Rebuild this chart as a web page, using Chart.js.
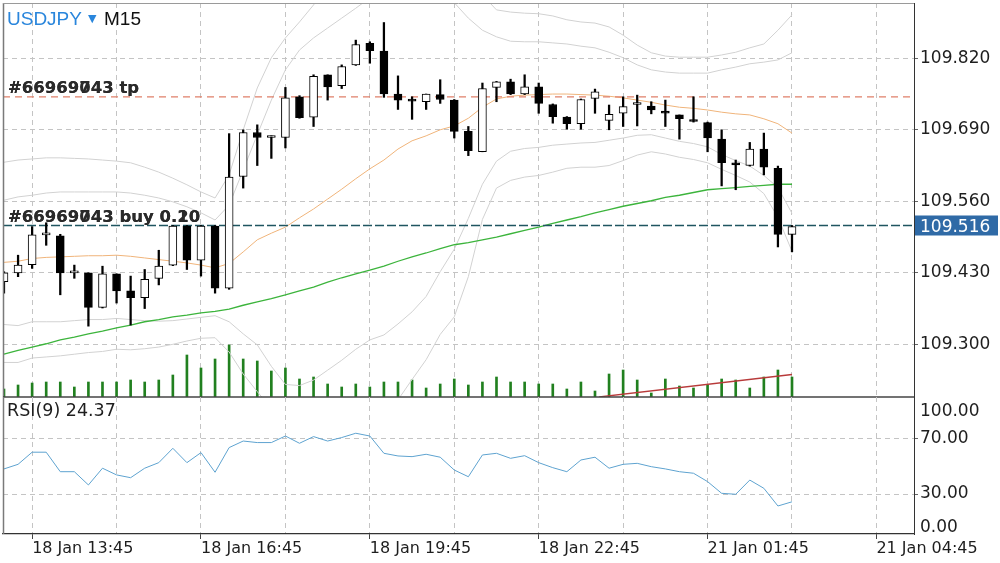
<!DOCTYPE html>
<html>
<head>
<meta charset="utf-8">
<title>USDJPY M15</title>
<script src="https://cdn.jsdelivr.net/npm/chart.js@4.4.1/dist/chart.umd.min.js"></script>
<style>
  body { margin: 0; background: #fff; }
  #wrap { position: relative; width: 1000px; height: 563px; overflow: hidden; background: #fff; }
  #wrap canvas { position: absolute; left: 0; }
</style>
</head>
<body>
<div id="wrap">
  <canvas id="priceChart" width="1000" height="400" style="top:0"></canvas>
  <canvas id="rsiChart" width="1000" height="166" style="top:397px"></canvas>
</div>
<script>
// M15 bars, index 0 = 18 Jan 13:15 (weekend gap after 18 Jan 23:45)
const opens  = [109.414,109.430,109.445,109.499,109.497,109.430,109.430,109.367,109.428,109.397,
                109.385,109.420,109.444,109.515,109.453,109.515,109.402,109.605,109.685,109.676,
                109.676,109.750,109.713,109.790,109.770,109.808,109.847,109.833,109.755,109.743,
                109.741,109.754,109.744,109.687,109.650,109.767,109.777,109.755,109.768,109.736,
                109.713,109.701,109.747,109.707,109.720,109.736,109.733,109.724,109.717,109.708,
                109.703,109.673,109.630,109.625,109.655,109.620,109.500];
const highs  = [109.432,109.462,109.514,109.521,109.500,109.444,109.430,109.442,109.428,109.424,
                109.436,109.471,109.516,109.516,109.516,109.516,109.683,109.690,109.699,109.679,
                109.767,109.752,109.790,109.790,109.808,109.853,109.850,109.885,109.788,109.750,
                109.755,109.781,109.745,109.696,109.775,109.778,109.782,109.790,109.775,109.737,
                109.714,109.746,109.764,109.735,109.750,109.753,109.741,109.744,109.717,109.750,
                109.704,109.690,109.635,109.667,109.684,109.624,109.516];
const lows   = [109.393,109.423,109.438,109.480,109.390,109.420,109.333,109.366,109.375,109.335,
                109.365,109.408,109.443,109.436,109.424,109.393,109.400,109.584,109.625,109.638,
                109.657,109.711,109.696,109.744,109.765,109.807,109.811,109.749,109.727,109.709,
                109.727,109.738,109.675,109.643,109.650,109.741,109.754,109.754,109.720,109.702,
                109.691,109.691,109.720,109.690,109.696,109.697,109.719,109.696,109.673,109.704,
                109.650,109.588,109.581,109.624,109.608,109.477,109.468];
const closes = [109.430,109.444,109.499,109.499,109.430,109.430,109.367,109.428,109.397,109.385,
                109.418,109.442,109.515,109.453,109.515,109.402,109.604,109.685,109.676,109.676,
                109.748,109.712,109.787,109.768,109.805,109.845,109.834,109.755,109.744,109.742,
                109.755,109.745,109.687,109.652,109.765,109.777,109.755,109.768,109.738,109.714,
                109.701,109.745,109.759,109.718,109.732,109.736,109.726,109.720,109.710,109.705,
                109.675,109.630,109.626,109.655,109.622,109.500,109.514];

// moving averages and bands
const maFast = [109.449,109.451,109.456,109.458,109.459,109.460,109.461,109.461,109.462,109.460,
                109.457,109.454,109.451,109.448,109.444,109.439,109.447,109.468,109.490,109.502,
                109.513,109.530,109.546,109.564,109.582,109.601,109.619,109.635,109.655,109.670,
                109.679,109.690,109.697,109.711,109.731,109.746,109.751,109.753,109.754,109.755,
                109.755,109.754,109.753,109.751,109.748,109.744,109.740,109.735,109.731,109.729,
                109.726,109.722,109.719,109.717,109.710,109.701,109.684];
const maSlow = [109.282,109.289,109.295,109.301,109.308,109.313,109.319,109.324,109.330,109.335,
                109.341,109.345,109.350,109.353,109.357,109.360,109.364,109.371,109.377,109.383,
                109.390,109.397,109.404,109.413,109.421,109.428,109.435,109.442,109.451,109.459,
                109.466,109.474,109.481,109.485,109.490,109.495,109.501,109.507,109.513,109.520,
                109.526,109.532,109.539,109.545,109.551,109.556,109.561,109.567,109.571,109.576,
                109.581,109.583,109.585,109.587,109.589,109.591,109.591];
const bandUpOuter = [109.631,109.635,109.637,109.639,109.639,109.638,109.637,109.635,109.633,109.630,
                109.622,109.613,109.602,109.590,109.577,109.566,109.608,109.690,109.766,109.821,
                109.857,109.886,109.917,109.953,109.990,110.026,110.053,110.081,110.111,110.104,
                110.086,110.062,110.044,109.999,109.935,109.908,109.904,109.902,109.901,109.897,
                109.890,109.886,109.884,109.877,109.862,109.844,109.830,109.824,109.822,109.822,
                109.822,109.826,109.831,109.839,109.846,109.871,109.899];
const bandUpInner = [109.562,109.568,109.571,109.575,109.577,109.577,109.577,109.577,109.577,109.575,
                109.571,109.566,109.559,109.550,109.539,109.526,109.553,109.617,109.681,109.744,
                109.799,109.835,109.857,109.875,109.893,109.911,109.930,109.953,109.973,109.981,
                109.971,109.948,109.921,109.893,109.871,109.859,109.851,109.850,109.850,109.848,
                109.846,109.842,109.839,109.831,109.821,109.808,109.799,109.795,109.793,109.793,
                109.793,109.799,109.804,109.810,109.813,109.817,109.830];
const bandLowInner = [109.336,109.334,109.341,109.341,109.341,109.343,109.345,109.345,109.347,109.345,
                109.343,109.342,109.343,109.346,109.349,109.352,109.341,109.319,109.299,109.260,
                109.227,109.225,109.235,109.253,109.271,109.291,109.308,109.317,109.337,109.359,
                109.387,109.432,109.473,109.529,109.591,109.633,109.651,109.656,109.658,109.662,
                109.664,109.666,109.667,109.671,109.675,109.680,109.681,109.675,109.669,109.665,
                109.659,109.645,109.634,109.624,109.607,109.585,109.538];
const bandLowOuter = [109.267,109.267,109.275,109.277,109.279,109.282,109.285,109.287,109.291,109.290,
                109.292,109.295,109.300,109.306,109.311,109.312,109.286,109.246,109.214,109.183,
                109.169,109.174,109.175,109.175,109.174,109.176,109.185,109.189,109.199,109.236,
                109.272,109.318,109.350,109.423,109.527,109.584,109.598,109.604,109.607,109.613,
                109.620,109.622,109.622,109.625,109.634,109.644,109.650,109.646,109.640,109.636,
                109.630,109.618,109.607,109.595,109.574,109.531,109.469];

// tick volumes
const volumes = [160,240,280,300,300,200,300,300,300,340,300,340,440,840,580,760,1040,760,720,520,
                 580,360,400,260,200,260,200,300,300,340,180,260,360,240,300,400,300,300,260,260,
                 160,300,120,460,540,340,80,360,220,180,240,360,340,180,400,540,400];
const volTrendX = [42.3, 56];
const volTrendY = [0, 450];

// RSI(9)
const rsi = [48,51.3,60,60,46,46,36.5,48.5,43.7,41.7,48.5,52.5,62.8,52.5,59.7,45.6,63.3,68,66.9,66.9,
             71.6,66.4,71.2,68,70.5,73.6,71.6,59.2,57.3,56.8,58.5,56.4,47.2,42.4,58,59.2,55.6,57.5,
             52.5,48.9,46,54.4,56.4,48.5,51.3,52,49.6,48,46,44.9,38.9,30.5,29.8,40,34.1,21.4,24.4];
const rsiLabel = 'RSI(9) 24.37';

// axes
const tickPos = [2, 14, 26, 38, 50, 62];
const tickLabels = ['18 Jan 13:45', '18 Jan 16:45', '18 Jan 19:45', '18 Jan 22:45', '21 Jan 01:45', '21 Jan 04:45'];
const priceTicks = [109.300, 109.430, 109.560, 109.690, 109.820];
const rsiTicks = [30, 70];

// order lines
const tpPrice = 109.750;
const buyPrice = 109.516;
const orderIds = ['#66969743', '#66969043'];
const buyLots = ['0.10', '0.20'];

// ---- layout ----
const X_MIN = -0.07, X_MAX = 64.67;
const FONT = '"DejaVu Sans", sans-serif';
const GRID = '#c4c4c4';
Chart.defaults.font.family = FONT;
Chart.defaults.color = '#222';

const pts = arr => arr.map((v, i) => ({ x: i, y: v }));
function gridTicks(axis) {
  axis.ticks = [];
  for (let v = 2; v <= 62; v += 6) axis.ticks.push({ value: v });
}
function noPad(axis) {
  axis.paddingLeft = axis.paddingRight = axis.paddingTop = axis.paddingBottom = 0;
}
function lineSet(data, color, width, order, extra) {
  return Object.assign({
    type: 'line', data: data, borderColor: color, borderWidth: width,
    pointRadius: 0, tension: 0, fill: false, order: order, yAxisID: 'y'
  }, extra || {});
}

// ---- price panel ----
const priceDecor = {
  id: 'priceDecor',
  afterDraw(chart) {
    const { ctx, chartArea: a, scales } = chart;
    ctx.save();
    // frame
    ctx.lineWidth = 1.5; ctx.strokeStyle = '#7a7a7a';
    ctx.beginPath(); ctx.moveTo(a.left + 0.5, a.top); ctx.lineTo(a.left + 0.5, a.bottom); ctx.stroke();
    ctx.lineWidth = 1; ctx.strokeStyle = '#9a9a9a';
    ctx.beginPath(); ctx.moveTo(a.left, a.top + 0.5); ctx.lineTo(a.right, a.top + 0.5); ctx.stroke();
    ctx.lineWidth = 1.5; ctx.strokeStyle = '#444';
    ctx.beginPath(); ctx.moveTo(a.left, a.bottom); ctx.lineTo(a.right, a.bottom); ctx.stroke();

    // title
    ctx.textBaseline = 'alphabetic'; ctx.textAlign = 'left';
    ctx.font = '19px "Liberation Sans", Arial, sans-serif';
    ctx.fillStyle = '#2a86dc';
    ctx.fillText('USDJPY', 7, 25);
    ctx.font = '11px "DejaVu Sans", sans-serif';
    ctx.fillText('\u25BC', 88, 22);
    ctx.font = '19px "Liberation Sans", Arial, sans-serif';
    ctx.fillStyle = '#111';
    ctx.fillText('M15', 104, 25);

    // order labels (two orders drawn on top of each other)
    const yTp = scales.y.getPixelForValue(tpPrice);
    const yBuy = scales.y.getPixelForValue(buyPrice);
    ctx.font = 'bold 16.5px ' + FONT;
    ctx.fillStyle = '#2a2a2a';
    orderIds.forEach((id, k) => {
      ctx.fillText(id + ' tp', 8, yTp - 4);
      ctx.fillText(id + ' buy ' + buyLots[k], 8, yBuy - 3.5);
    });

    // current price box
    ctx.fillStyle = '#2f6aa6';
    ctx.fillRect(a.right + 1, yBuy - 10, 83, 20);
    ctx.fillStyle = '#fff';
    ctx.font = '17px ' + FONT;
    ctx.fillText(buyPrice.toFixed(3), a.right + 6, yBuy + 6.5);
    ctx.restore();
  }
};

const bodyColors = closes.map((c, i) => (c >= opens[i] ? '#ffffff' : '#000000'));

new Chart(document.getElementById('priceChart'), {
  type: 'line',
  data: {
    datasets: [
      {
        type: 'bar', data: opens.map((o, i) => ({ x: i, y: [o, closes[i]] })),
        backgroundColor: bodyColors, borderColor: '#000', borderWidth: 1, borderSkipped: false,
        barThickness: 8, minBarLength: 2, grouped: false, order: 1, yAxisID: 'y'
      },
      {
        type: 'bar', data: lows.map((l, i) => ({ x: i, y: [l, highs[i]] })),
        backgroundColor: '#000', borderWidth: 0, barThickness: 1.6, grouped: false, order: 2, yAxisID: 'y'
      },
      lineSet([{ x: X_MIN, y: tpPrice }, { x: X_MAX, y: tpPrice }], '#e0806a', 1.2, 3, { borderDash: [7, 5] }),
      lineSet([{ x: X_MIN, y: buyPrice }, { x: X_MAX, y: buyPrice }], '#1f5560', 1.3, 3, { borderDash: [9, 3] }),
      lineSet(pts(maFast), '#f0b47a', 1, 4),
      lineSet(pts(maSlow), '#3cb43c', 1.3, 4),
      lineSet(pts(bandUpOuter), '#d2d2d2', 1, 5),
      lineSet(pts(bandUpInner), '#d2d2d2', 1, 5),
      lineSet(pts(bandLowInner), '#d2d2d2', 1, 5),
      lineSet(pts(bandLowOuter), '#d2d2d2', 1, 5),
      lineSet(volTrendX.map((x, k) => ({ x: x, y: volTrendY[k] })), '#b83a3a', 1.3, 6, { yAxisID: 'yv' }),
      {
        type: 'bar', data: pts(volumes), backgroundColor: '#21801f', borderWidth: 0,
        barThickness: 2, grouped: false, order: 7, yAxisID: 'yv'
      }
    ]
  },
  options: {
    responsive: false, animation: false, events: [],
    layout: { padding: { left: 3, top: 3, right: 0, bottom: 0 } },
    plugins: { legend: { display: false }, tooltip: { enabled: false } },
    scales: {
      x: {
        type: 'linear', position: 'bottom', min: X_MIN, max: X_MAX, offset: false,
        afterBuildTicks: gridTicks,
        afterFit: ax => { ax.height = 3; noPad(ax); },
        ticks: { display: false },
        grid: { color: GRID, drawTicks: false, offset: false },
        border: { display: false, dash: [5, 4] }
      },
      y: {
        type: 'linear', position: 'right', min: 109.2042, max: 109.9205,
        afterBuildTicks: ax => { ax.ticks = priceTicks.map(v => ({ value: v })); },
        afterFit: ax => { ax.width = 86; noPad(ax); },
        ticks: { callback: v => v.toFixed(3), font: { size: 17 }, color: '#1e1e1e', padding: 2 },
        grid: { color: GRID, tickLength: 4, tickColor: '#666' },
        border: { display: true, color: '#333', width: 1, dash: [5, 4] }
      },
      yv: { type: 'linear', display: false, position: 'right', min: 0, max: 7880 }
    }
  },
  plugins: [priceDecor]
});

// ---- RSI panel ----
const rsiDecor = {
  id: 'rsiDecor',
  afterDraw(chart) {
    const { ctx, chartArea: a } = chart;
    ctx.save();
    ctx.lineWidth = 1.5; ctx.strokeStyle = '#7a7a7a';
    ctx.beginPath(); ctx.moveTo(a.left + 0.5, a.top); ctx.lineTo(a.left + 0.5, a.bottom); ctx.stroke();
    ctx.fillStyle = '#1e1e1e';
    ctx.textAlign = 'left'; ctx.textBaseline = 'alphabetic';
    ctx.font = '17.5px ' + FONT;
    ctx.fillText(rsiLabel, 7, a.top + 19);
    ctx.font = '17px ' + FONT;
    ctx.fillText((100).toFixed(2), a.right + 6, a.top + 19);
    ctx.fillText((0).toFixed(2), a.right + 6, a.bottom - 2.5);
    ctx.restore();
  }
};

new Chart(document.getElementById('rsiChart'), {
  type: 'line',
  data: {
    datasets: [lineSet(pts(rsi), '#5ea3d0', 1, 1)]
  },
  options: {
    responsive: false, animation: false, events: [],
    layout: { padding: { left: 3, top: 0, right: 0, bottom: 0 } },
    plugins: { legend: { display: false }, tooltip: { enabled: false } },
    scales: {
      x: {
        type: 'linear', position: 'bottom', min: X_MIN, max: X_MAX, offset: false,
        afterBuildTicks: gridTicks,
        afterFit: ax => { ax.height = 29; noPad(ax); },
        ticks: {
          callback: v => { const k = tickPos.indexOf(v); return k >= 0 ? tickLabels[k] : ''; },
          align: 'start', maxRotation: 0, autoSkip: false, padding: 0,
          font: { size: 16 }, color: '#1e1e1e'
        },
        grid: {
          color: GRID, tickLength: 5, offset: false,
          tickColor: c => (c.tick && tickPos.includes(c.tick.value) ? '#444' : 'rgba(0,0,0,0)')
        },
        border: { display: true, color: '#333', width: 1.2, dash: [5, 4] }
      },
      y: {
        type: 'linear', position: 'right', min: 1.3, max: 99.6,
        afterBuildTicks: ax => { ax.ticks = rsiTicks.map(v => ({ value: v })); },
        afterFit: ax => { ax.width = 86; noPad(ax); },
        ticks: { callback: v => v.toFixed(2), font: { size: 17 }, color: '#1e1e1e', padding: 2 },
        grid: { color: GRID, tickLength: 4, tickColor: '#666' },
        border: { display: true, color: '#333', width: 1, dash: [5, 4] }
      }
    }
  },
  plugins: [rsiDecor]
});
</script>
</body>
</html>
